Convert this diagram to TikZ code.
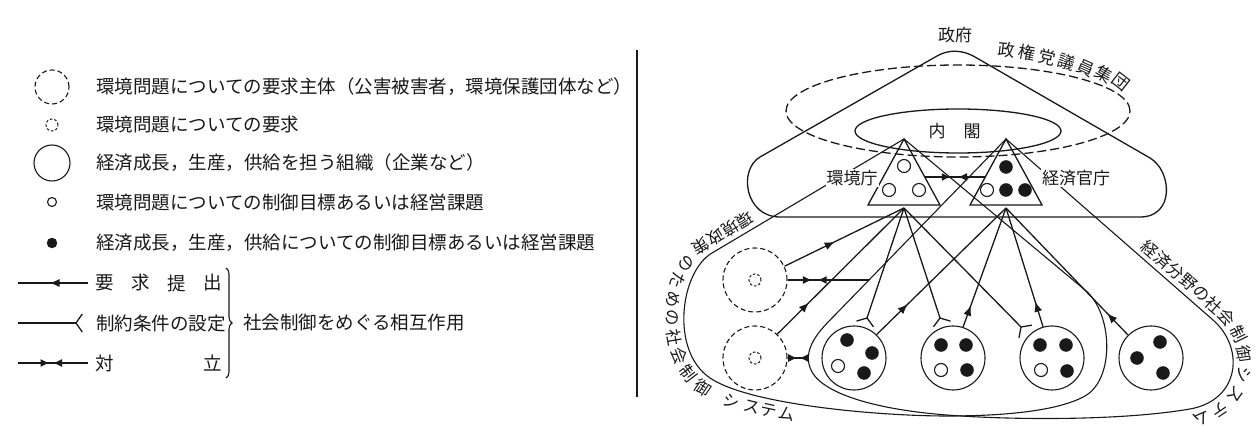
\documentclass[tikz,border=0pt]{standalone}
\usepackage{fontspec}
\setmainfont{Noto Sans CJK JP}
\usetikzlibrary{arrows.meta,decorations.markings,decorations.pathreplacing,calc}
\newcommand\forkat[2]{\draw[ln] ($(#2)!11pt!125:(#1)$) -- (#2) -- ($(#2)!11pt!-125:(#1)$);}
\begin{document}
\begin{tikzpicture}[x=1pt,y=-1pt,
  ln/.style={line width=1.3pt, draw=black!90},
  bline/.style={line width=1.1pt, draw=black!90},
  circ/.style={circle, draw=black!90, line width=1.1pt, minimum size=64pt, inner sep=0pt},
  dcirc/.style={circ, dash pattern=on 5pt off 3pt},
  sdc/.style={circle, draw=black!90, line width=1pt, dash pattern=on 2.5pt off 2pt, minimum size=12pt, inner sep=0pt},
  dotw/.style={circle, draw=black!90, line width=1.1pt, minimum size=13pt, inner sep=0pt},
  dotb/.style={circle, draw=black!90, fill=black!90, minimum size=13pt, inner sep=0pt},
  lbl/.style={font=\fontsize{17}{20}\selectfont, text=black!90, inner sep=1pt},
  ptx/.style={font=\fontsize{16.5}{20}\selectfont, text=black!90, inner sep=0pt},
  lg/.style={font=\fontsize{18.5}{22}\selectfont, text=black!90, anchor=west, inner sep=0pt},
  lgc/.style={font=\fontsize{18.5}{22}\selectfont, text=black!90, inner sep=0pt},
  reqarrow/.style={postaction={decorate}, decoration={markings, mark=at position #1 with {\arrow{Latex[length=10pt,width=8pt]}}}},
  conflict/.style 2 args={postaction={decorate}, decoration={markings, mark=at position #1 with {\arrow{Latex[length=9pt,width=8pt]}}, mark=at position #2 with {\arrowreversed{Latex[length=9pt,width=8pt]}}}},
]
\fill[white] (0,0) rectangle (1258,427);
\useasboundingbox (0,0) rectangle (1258,427);

% ---------------- legend ----------------
\draw[bline] (637,50) -- (637,397);
\node[dcirc, minimum size=34pt] (k1) at (52,87) {};
\node[lg] (t1) at (96,87) {環境問題についての要求主体（公害被害者，環境保護団体など）};
\node[sdc] (k2) at (52,125) {};
\node[lg] (t2) at (96,125) {環境問題についての要求};
\node[circ, minimum size=36pt] (k3) at (52,163) {};
\node[lg] (t3) at (96,163) {経済成長，生産，供給を担う組織（企業など）};
\node[dotw, minimum size=9pt] (k4) at (52,202) {};
\node[lg] (t4) at (96,202) {環境問題についての制御目標あるいは経営課題};
\node[dotb, minimum size=10pt] (k5) at (52,243) {};
\node[lg] (t5) at (96,243) {経済成長，生産，供給についての制御目標あるいは経営課題};

\coordinate (a1) at (18,283); \coordinate (a2) at (88,283);
\draw[ln, reqarrow=0.55] (a2) -- (a1);
\coordinate (b1) at (18,323); \coordinate (b2) at (76,323);
\draw[ln] (b1) -- (b2); \forkat{b1}{b2}
\coordinate (c1x) at (18,363); \coordinate (c2x) at (88,363);
\draw[ln, conflict={0.45}{0.5}] (c1x) -- (c2x);
\node[lgc] (r1) at (105,283) {要}; \node[lgc] (r2) at (141,283) {求};
\node[lgc] (r3) at (177,283) {提}; \node[lgc] (r4) at (213,283) {出};
\node[lg] (r5) at (96,323) {制約条件の設定};
\node[lgc] (r6) at (105,363) {対}; \node[lgc] (r7) at (213,363) {立};
\draw[bline, decorate, decoration={brace, amplitude=6pt}] (226,268) -- (226,378);
\node[lg] (r8) at (243,323) {社会制御をめぐる相互作用};

% ---------------- government ----------------
\draw[ln] (780,217) -- (1140,217) .. controls (1175,217) and (1172,171) .. (1150,158)
  -- (975,57) .. controls (963,50) and (949,49) .. (937,56)
  -- (760,157) .. controls (738,170) and (745,217) .. (780,217) -- cycle;
\node[lbl] (seifu) at (955,35) {政府};
\draw[ln, dash pattern=on 9pt off 4pt] (958,111) ellipse [x radius=172pt, y radius=46pt];
\foreach \ch/\x/\y/\r [count=\i] in {政/1007/50/-6, 権/1027/53/-10, 党/1047/57/-14, 議/1067/62/-18, 員/1086/68/-24, 集/1104/74/-30, 団/1121/82/-38}
  \node[lbl, rotate=\r] (pg\i) at (\x,\y) {\ch};
\draw[ln] (958,131) ellipse [x radius=103pt, y radius=22pt];
\node[lbl] (nai) at (937,131) {内};
\node[lbl] (kaku) at (972,131) {閣};

% triangles
\coordinate (tLa) at (904,139); \coordinate (tLr) at (940,205); \coordinate (tLl) at (868,205);
\coordinate (tRa) at (1006,139); \coordinate (tRr) at (1042,205); \coordinate (tRl) at (970,205);
\draw[ln] (tLa) -- (tLr) -- (tLl) -- cycle;
\draw[ln] (tRa) -- (tRr) -- (tRl) -- cycle;
\node[dotw] (le1) at (904,166) {};
\node[dotw] (le2) at (889,190) {};
\node[dotw] (le3) at (919,190) {};
\node[dotb] (re1) at (1006,167) {};
\node[dotw] (re2) at (987,190) {};
\node[dotb] (re3) at (1006,190) {};
\node[dotb] (re4) at (1025,190) {};
\coordinate (kL) at (925,177); \coordinate (kR) at (985,177);
\draw[ln, conflict={0.43}{0.55}] (kL) -- (kR);
\coordinate (hubL) at (904,208);
\coordinate (hubR) at (1006,208);

% ---------------- systems ----------------
\draw[bline] (tLa) -- (712,253) .. controls (680,272) and (670,351) .. (710,378)
  .. controls (750,405) and (880,416) .. (947,416)
  .. controls (1010,416) and (1060,410) .. (1085,396)
  .. controls (1115,379) and (1113,313) .. (1085,290) -- cycle;
\foreach \ch/\x/\y/\r [count=\i] in {環/744.8/219.7/-149, 境/730.2/228.4/-149, 政/715.6/237/-149, 策/700.9/245.7/-149,
  の/686.4/263.2/-121, た/678.2/280.8/-109, め/673.7/299.4/-99, の/672.1/318/-90, 社/673.6/337.1/-80,
  会/678.9/356/-68, 制/688.6/373.6/-53, 御/703.3/387.9/-34, シ/731.6/401.1/-19, ス/751.4/407/-14,
  テ/768.5/410.8/-12, ム/786.8/414.4/-10}
  \node[ptx, rotate=\r] (et\i) at (\x,\y) {\ch};
\draw[bline] (tRa) -- (1213,320) .. controls (1245,348) and (1240,400) .. (1190,409)
  .. controls (1120,421) and (1010,420) .. (947,415)
  .. controls (880,410) and (825,395) .. (812,372)
  .. controls (800,350) and (820,330) .. (835,315) -- cycle;
\foreach \ch/\x/\y/\r [count=\i] in {経/1149.8/248.8/-41, 済/1162.6/260/-41, 分/1175.4/271.2/-41, 野/1188.2/282.4/-41,
  の/1201/293.6/-41, 社/1213.8/304.8/-41, 会/1227/317.5/-48, 制/1238.6/334.1/-64, 御/1244.3/354/-82,
  シ/1243.8/375/-102, ス/1235.3/394.6/-125, テ/1220.2/409.6/-146, ム/1201.5/418.2/-163}
  \node[ptx, rotate=\r] (ec\i) at (\x,\y) {\ch};

% demand groups
\node[dcirc] (u) at (755,280) {};
\node[sdc] (ui) at (755,280) {};
\node[dcirc] (l) at (755,358) {};
\node[sdc] (li) at (755,358) {};
% enterprises
\node[circ] (c1) at (854,358) {};
\node[circ] (c2) at (953,358) {};
\node[circ] (c3) at (1052,358) {};
\node[circ] (c4) at (1151,358) {};
\node[dotb] (c1a) at (847,340) {}; \node[dotb] (c1b) at (872,353) {};
\node[dotw] (c1c) at (838,366) {}; \node[dotb] (c1d) at (864,373) {};
\node[dotb] (c2a) at (941,345) {}; \node[dotb] (c2b) at (966,345) {};
\node[dotw] (c2c) at (941,370) {}; \node[dotb] (c2d) at (967,370) {};
\node[dotb] (c3a) at (1040,345) {}; \node[dotb] (c3b) at (1066,345) {};
\node[dotw] (c3c) at (1041,370) {}; \node[dotb] (c3d) at (1067,371) {};
\node[dotb] (c4a) at (1160,342) {}; \node[dotb] (c4b) at (1137,358) {};
\node[dotb] (c4c) at (1163,373) {};

% requests
\draw[ln, reqarrow=0.42] (u.25) -- (hubL);
\draw[ln, reqarrow=0.25] (l.47) -- (hubL);
\draw[ln, reqarrow=0.24] (c1.46) -- (hubR);
\draw[ln, reqarrow=0.18] (c2.72) -- (hubR);
\draw[ln, reqarrow=0.21] (c3.106) -- (hubR);
\draw[ln, reqarrow=0.17] (c4.135) -- (hubR);
% constraints
\coordinate (f1) at (867,318); \coordinate (f2) at (940,318); \coordinate (f3) at (1021,327);
\draw[ln] (hubL) -- (f1); \forkat{hubL}{f1}
\draw[ln] (hubL) -- (f2); \forkat{hubL}{f2}
\draw[ln] (hubL) -- (f3); \forkat{hubL}{f3}
% conflicts
\coordinate (ub) at (869,280); \coordinate (lb) at (809,358);
\draw[ln, conflict={0.30}{0.37}] (u.east) -- (ub);
\draw[ln, conflict={0.45}{0.55}] (l.east) -- (lb);

% labels
\node[lbl, fill=white] (kankyo) at (852,178) {環境庁};
\node[lbl, fill=white] (keizai) at (1076,178) {経済官庁};
\end{tikzpicture}
\end{document}
